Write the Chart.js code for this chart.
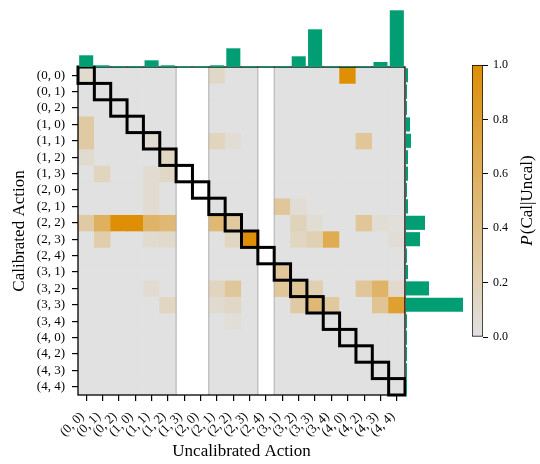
<!DOCTYPE html>
<html>
<head>
<meta charset="utf-8">
<script src="https://cdn.jsdelivr.net/npm/chart.js@4.4.1/dist/chart.umd.min.js"></script>
<style>
  body { margin: 0; background: #fff; }
  #wrap { position: relative; width: 540px; height: 464px; }
  canvas { position: absolute; }
</style>
</head>
<body>
<div id="wrap">
  <canvas id="heat" width="540" height="464" style="left:0;top:0"></canvas>
  <canvas id="topMarg" width="540" height="67" style="left:0;top:0"></canvas>
  <canvas id="rightMarg" width="60" height="464" style="left:405px;top:0"></canvas>
  <canvas id="cbar" width="100" height="464" style="left:440px;top:0"></canvas>
</div>
<script>
// Actions (same list on both axes)
const actions = ['(0, 0)', '(0, 1)', '(0, 2)', '(1, 0)', '(1, 1)', '(1, 2)', '(1, 3)',
  '(2, 0)', '(2, 1)', '(2, 2)', '(2, 3)', '(2, 4)', '(3, 1)', '(3, 2)', '(3, 3)',
  '(3, 4)', '(4, 0)', '(4, 2)', '(4, 3)', '(4, 4)'];

// P(Cal | Uncal): one row per calibrated action, one entry per uncalibrated action.
// null = uncalibrated action never taken (blank column)
const n = null;
const pCalGivenUncal = [
  [0.08, 0, 0, 0, 0, 0, n, n, 0.12, 0, 0, n, 0, 0, 0, 0, 1.0, 0, 0, 0],
  [0, 0, 0, 0, 0, 0, n, n, 0, 0, 0, n, 0, 0, 0, 0, 0, 0, 0, 0],
  [0, 0, 0, 0, 0, 0, n, n, 0, 0, 0, n, 0, 0, 0, 0, 0, 0, 0, 0],
  [0.28, 0, 0, 0, 0, 0, n, n, 0, 0, 0, n, 0, 0, 0, 0, 0, 0, 0, 0],
  [0.28, 0, 0, 0, 0.07, 0, n, n, 0.15, 0.05, 0, n, 0, 0, 0, 0, 0, 0.33, 0, 0],
  [0.08, 0, 0, 0, 0, 0.14, n, n, 0, 0, 0, n, 0, 0, 0, 0, 0, 0, 0, 0],
  [0, 0.15, 0, 0, 0.07, 0.12, n, n, 0, 0, 0, n, 0, 0, 0, 0, 0, 0, 0, 0],
  [0, 0, 0, 0, 0.07, 0, n, n, 0, 0, 0, n, 0, 0, 0, 0, 0, 0, 0, 0],
  [0, 0, 0, 0, 0.07, 0, n, n, 0, 0, 0, n, 0.33, 0.06, 0, 0, 0, 0, 0, 0],
  [0.28, 0.6, 1.0, 1.0, 0.55, 0.5, n, n, 0.5, 0.3, 0, n, 0, 0.17, 0.06, 0, 0, 0.33, 0.06, 0.03],
  [0, 0.25, 0, 0, 0.08, 0.1, n, n, 0, 0.14, 1.0, n, 0, 0.14, 0.2, 0.65, 0, 0, 0, 0.05],
  [0, 0, 0, 0, 0, 0, n, n, 0, 0, 0, n, 0, 0, 0, 0, 0, 0, 0, 0],
  [0, 0, 0, 0, 0, 0, n, n, 0, 0, 0, n, 0.33, 0, 0, 0, 0, 0, 0, 0],
  [0, 0, 0, 0, 0.07, 0, n, n, 0.15, 0.32, 0, n, 0.33, 0.35, 0.22, 0, 0, 0.33, 0.55, 0.1],
  [0, 0, 0, 0, 0, 0.14, n, n, 0.08, 0.12, 0, n, 0, 0.28, 0.5, 0.3, 0, 0, 0.35, 0.8],
  [0, 0, 0, 0, 0, 0, n, n, 0, 0.04, 0, n, 0, 0, 0, 0, 0, 0, 0, 0],
  [0, 0, 0, 0, 0, 0, n, n, 0, 0, 0, n, 0, 0, 0, 0, 0, 0, 0, 0],
  [0, 0, 0, 0, 0, 0, n, n, 0, 0, 0, n, 0, 0, 0, 0, 0, 0, 0, 0],
  [0, 0, 0, 0, 0, 0, n, n, 0, 0, 0, n, 0, 0, 0, 0, 0, 0, 0, 0],
  [0, 0, 0, 0, 0, 0, n, n, 0, 0, 0, n, 0, 0, 0, 0, 0, 0, 0, 0]
];

// Marginal frequencies (top: uncalibrated, right: calibrated)
const uncalFreq = [11.7, 1.7, 0.5, 0.5, 6.7, 1.7, 0, 0, 1.7, 18.7,
  0.7, 0, 0.7, 10.7, 37.7, 0.5, 0.7, 0.5, 5, 56.7];
const calFreq = [2, 1, 1, 4, 5, 2, 2, 1, 2, 19,
  14, 1, 2, 23, 57, 0.5, 0.5, 0.5, 0.5, 0.5];
const margMax = 57;

// Colorbar ticks
const cbarTicks = [0, 0.2, 0.4, 0.6, 0.8, 1.0];

const serif = "'Liberation Serif', 'Times New Roman', serif";
const green = '#029E73';
const cmapLow = [225, 225, 225];
const cmapHigh = [222, 143, 5];

function cmap(t) {
  const c = cmapLow.map((lo, k) => Math.round(lo + (cmapHigh[k] - lo) * t));
  return `rgb(${c[0]},${c[1]},${c[2]})`;
}

// Diagonal boxes, frame and edges of blank columns
const framePlugin = {
  id: 'frame',
  afterDatasetsDraw(chart) {
    const { ctx, chartArea: a, scales: { x, y } } = chart;
    const hx = (x.getPixelForValue(1) - x.getPixelForValue(0)) / 2;
    const hy = Math.abs(y.getPixelForValue(1) - y.getPixelForValue(0)) / 2;
    const blank = uncalFreq.map(f => f === 0);
    ctx.save();
    ctx.strokeStyle = '#b0b0b0';
    ctx.lineWidth = 1;
    blank.forEach((b, i) => {
      if (!b) return;
      const cx = x.getPixelForValue(i);
      if (i > 0 && !blank[i - 1]) {
        ctx.beginPath(); ctx.moveTo(cx - hx, a.top); ctx.lineTo(cx - hx, a.bottom); ctx.stroke();
      }
      if (i < blank.length - 1 && !blank[i + 1]) {
        ctx.beginPath(); ctx.moveTo(cx + hx, a.top); ctx.lineTo(cx + hx, a.bottom); ctx.stroke();
      }
    });
    ctx.strokeStyle = '#000';
    ctx.lineWidth = 1.3;
    ctx.strokeRect(a.left, a.top, a.right - a.left, a.bottom - a.top);
    ctx.lineWidth = 3;
    actions.forEach((_, i) => {
      const cx = x.getPixelForValue(i);
      const cy = y.getPixelForValue(i);
      ctx.strokeRect(cx - hx, cy - hy, 2 * hx, 2 * hy);
    });
    ctx.restore();
  }
};

const heatDatasets = pCalGivenUncal.map((row, r) => ({
  data: row.map(v => (v === null ? null : [r - 0.5, r + 0.5])),
  backgroundColor: row.map(v => (v === null ? 'rgba(0,0,0,0)' : cmap(v))),
  borderWidth: 0,
  grouped: false,
  barPercentage: 1,
  categoryPercentage: 1
}));

new Chart(document.getElementById('heat'), {
  type: 'bar',
  data: { labels: actions, datasets: heatDatasets },
  options: {
    responsive: false,
    animation: false,
    devicePixelRatio: 1,
    layout: { padding: { top: 67, right: 135, left: 0, bottom: 0 } },
    plugins: { legend: { display: false }, tooltip: { enabled: false } },
    scales: {
      x: {
        type: 'category',
        offset: true,
        grid: { offset: false, drawOnChartArea: false, tickLength: 6, color: '#000', lineWidth: 1.2 },
        border: { display: false },
        ticks: { autoSkip: false, minRotation: 45, maxRotation: 45, padding: 8, labelOffset: -4, color: '#000', font: { family: serif, size: 13 } },
        title: { display: true, text: 'Uncalibrated Action', color: '#000', font: { family: serif, size: 17 }, padding: { top: 0, bottom: 2 } },
        afterFit: s => { s.height = 69; }
      },
      y: {
        type: 'linear',
        min: -0.5,
        max: 19.5,
        reverse: true,
        afterBuildTicks: s => { s.ticks = actions.map((_, i) => ({ value: i })); },
        grid: { drawOnChartArea: false, tickLength: 6, color: '#000', lineWidth: 1.2 },
        border: { display: false },
        ticks: { autoSkip: false, padding: 7, color: '#000', font: { family: serif, size: 13 }, callback: v => actions[v] },
        title: { display: true, text: 'Calibrated Action', color: '#000', font: { family: serif, size: 17 }, padding: { top: 9, bottom: 0 } },
        afterFit: s => { s.width = 78; }
      }
    }
  },
  plugins: [framePlugin]
});

// Top marginal: uncalibrated action frequency
new Chart(document.getElementById('topMarg'), {
  type: 'bar',
  data: {
    labels: actions,
    datasets: [{ data: uncalFreq, backgroundColor: green, barPercentage: 0.86, categoryPercentage: 1, minBarLength: 1 }]
  },
  options: {
    responsive: false,
    animation: false,
    devicePixelRatio: 1,
    layout: { padding: { left: 78, right: 135, top: 10, bottom: 0 } },
    plugins: { legend: { display: false }, tooltip: { enabled: false } },
    scales: {
      x: { display: false },
      y: { display: false, min: 0, max: margMax }
    }
  }
});

// Right marginal: calibrated action frequency
new Chart(document.getElementById('rightMarg'), {
  type: 'bar',
  data: {
    labels: actions,
    datasets: [{ data: calFreq, backgroundColor: green, barPercentage: 0.86, categoryPercentage: 1, minBarLength: 1 }]
  },
  options: {
    indexAxis: 'y',
    responsive: false,
    animation: false,
    devicePixelRatio: 1,
    layout: { padding: { left: 1, right: 2, top: 67, bottom: 69 } },
    plugins: { legend: { display: false }, tooltip: { enabled: false } },
    scales: {
      x: { display: false, min: 0, max: margMax },
      y: { display: false }
    }
  }
});

// Colorbar label with italic P
const cbarLabel = {
  id: 'cbarLabel',
  afterDraw(chart) {
    const { ctx, chartArea: a } = chart;
    const cy = (a.top + a.bottom) / 2;
    ctx.save();
    ctx.translate(88, cy);
    ctx.rotate(-Math.PI / 2);
    ctx.fillStyle = '#000';
    ctx.textBaseline = 'middle';
    const fItal = `italic 17px ${serif}`;
    const fReg = `17px ${serif}`;
    ctx.font = fItal;
    const wP = ctx.measureText('P').width;
    ctx.font = fReg;
    const wRest = ctx.measureText('(Cal|Uncal)').width;
    const x0 = -(wP + wRest) / 2;
    ctx.font = fItal;
    ctx.fillText('P', x0, 0);
    ctx.font = fReg;
    ctx.fillText('(Cal|Uncal)', x0 + wP + 1, 0);
    ctx.restore();
  }
};

new Chart(document.getElementById('cbar'), {
  type: 'bar',
  data: {
    labels: [''],
    datasets: [{
      data: [[cbarTicks[0], cbarTicks[cbarTicks.length - 1]]],
      backgroundColor: c => {
        const chart = c.chart;
        if (!chart.chartArea) return null;
        const y = chart.scales.y;
        const g = chart.ctx.createLinearGradient(0, y.getPixelForValue(0), 0, y.getPixelForValue(1));
        g.addColorStop(0, cmap(0));
        g.addColorStop(1, cmap(1));
        return g;
      },
      borderColor: '#000',
      borderWidth: 1,
      borderSkipped: false,
      barPercentage: 1,
      categoryPercentage: 1
    }]
  },
  options: {
    responsive: false,
    animation: false,
    devicePixelRatio: 1,
    layout: { padding: { left: 32, right: 0, top: 65, bottom: 127 } },
    plugins: { legend: { display: false }, tooltip: { enabled: false } },
    scales: {
      x: { display: false },
      y: {
        position: 'right',
        min: 0,
        max: 1,
        afterBuildTicks: s => { s.ticks = cbarTicks.map(v => ({ value: v })); },
        grid: { drawOnChartArea: false, tickLength: 5, color: '#000', lineWidth: 1 },
        border: { display: false },
        ticks: { padding: 5, color: '#000', font: { family: serif, size: 12 }, callback: v => v.toFixed(1) },
        afterFit: s => { s.width = 57; }
      }
    }
  },
  plugins: [cbarLabel]
});
</script>
</body>
</html>
